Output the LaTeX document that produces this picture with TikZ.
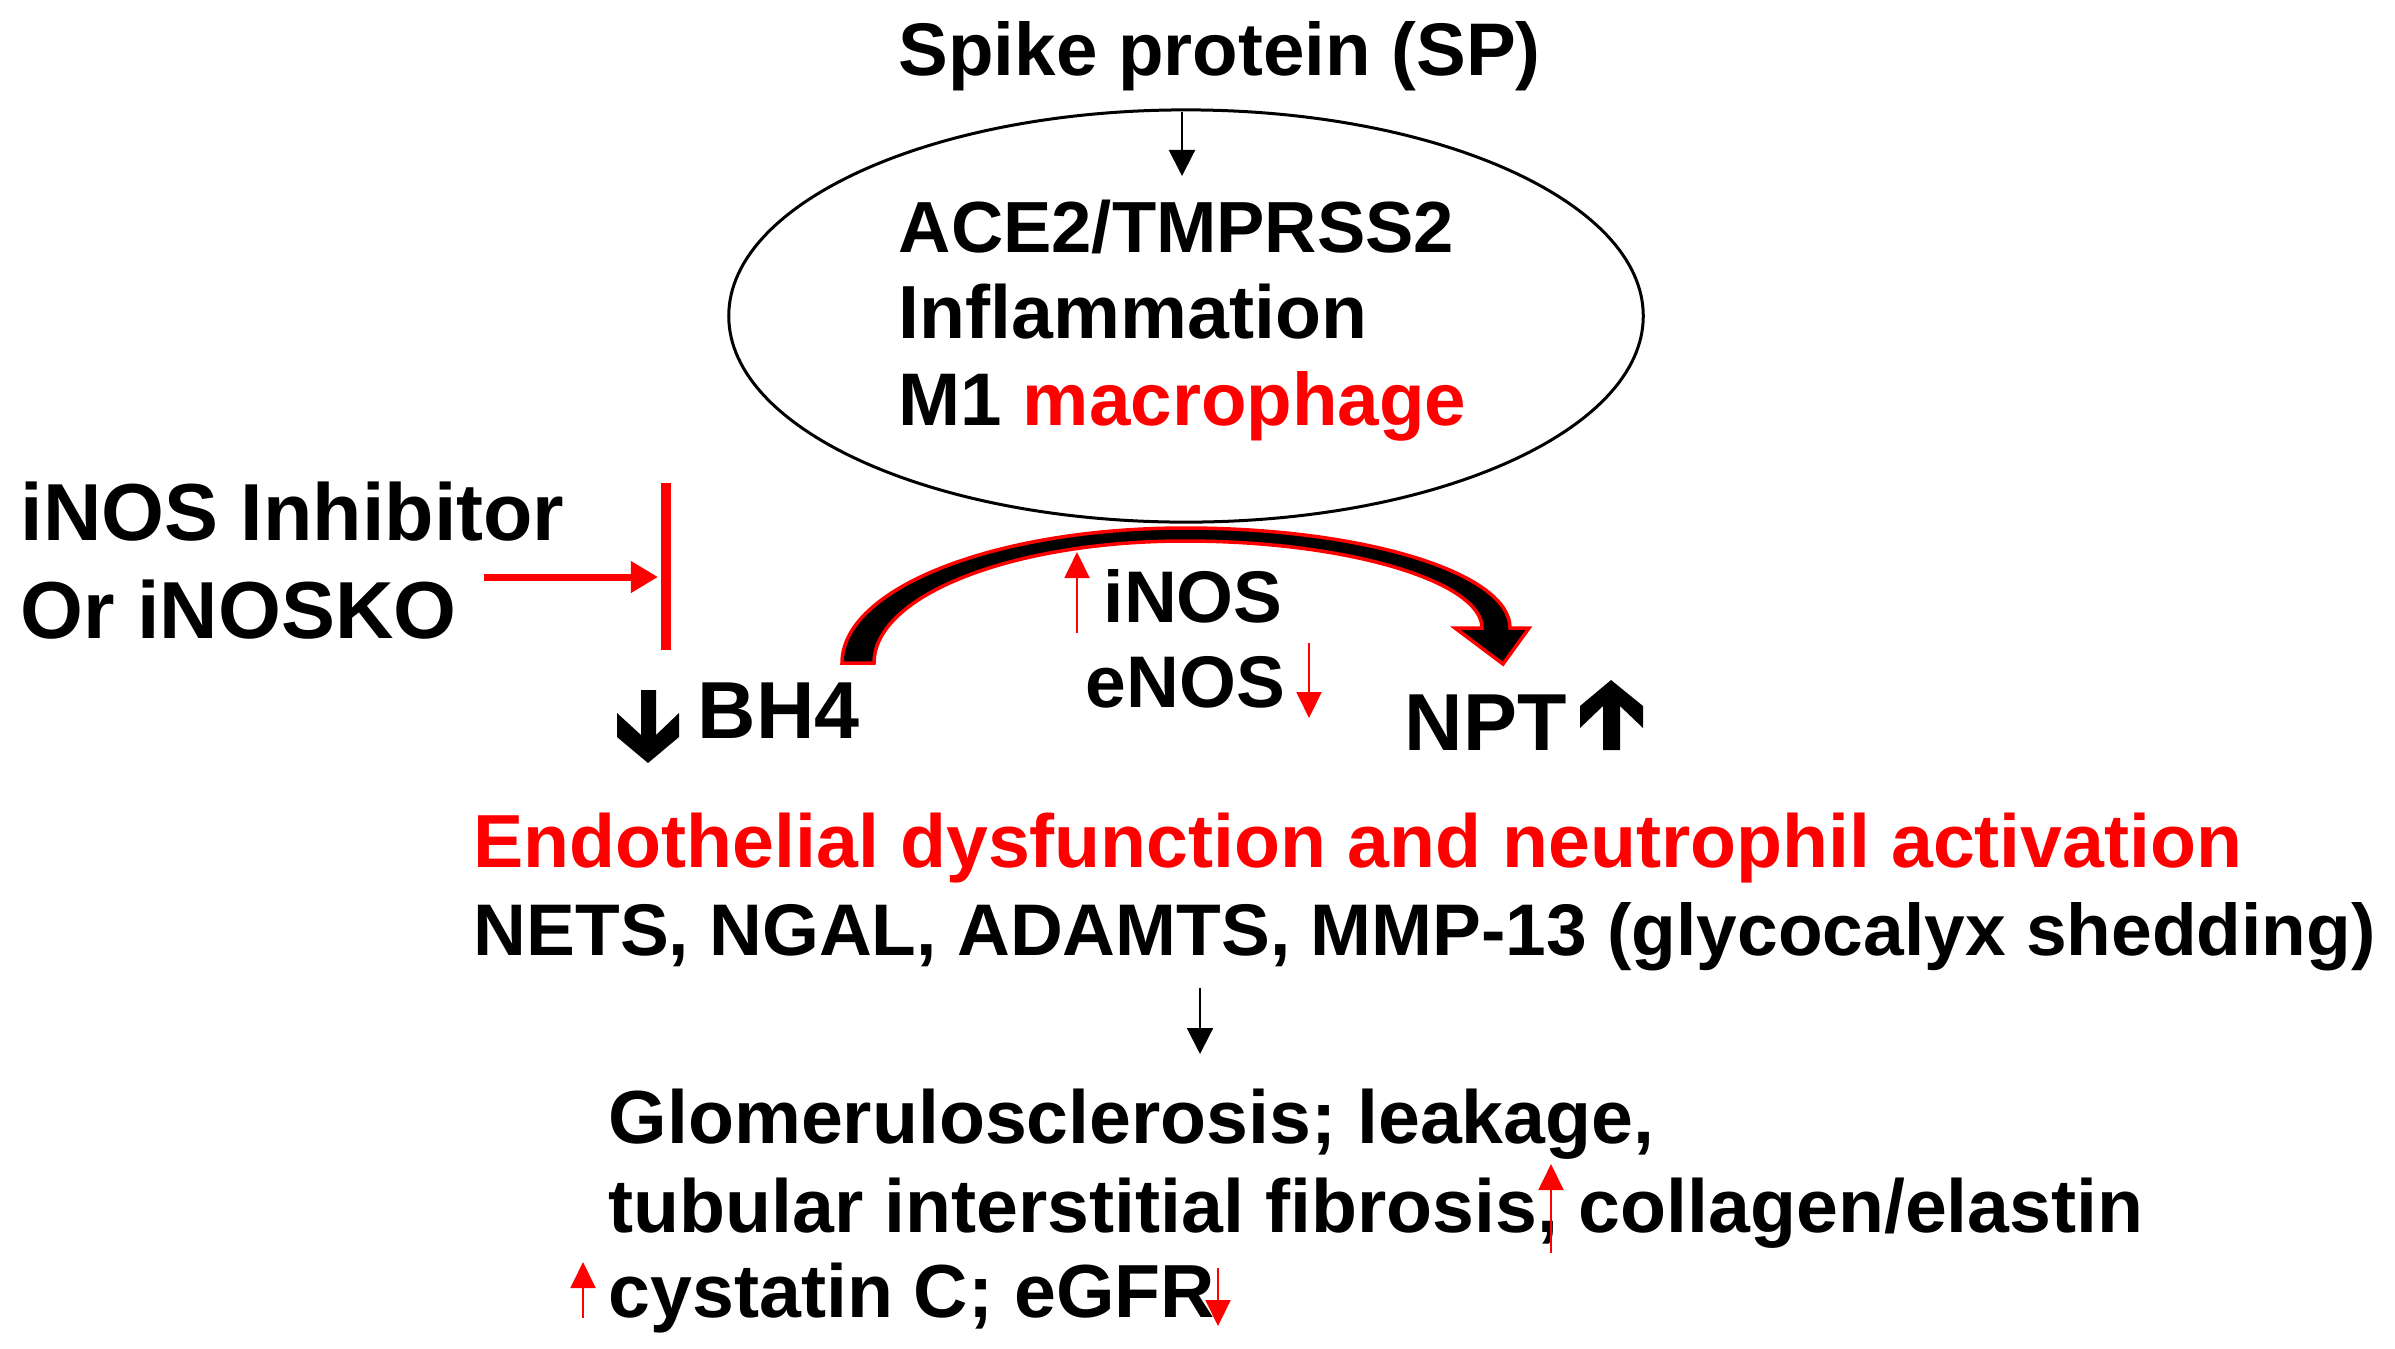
\documentclass[tikz,border=0pt]{standalone}
\usepackage{fontspec}
\setmainfont{Liberation Sans}
\usetikzlibrary{arrows.meta,shapes.geometric}
\definecolor{pred}{RGB}{255,0,0}
\begin{document}
\begin{tikzpicture}[x=0.01cm,y=-0.01cm,
  txt/.style={anchor=base west,inner sep=0pt,font=\bfseries},
  thinarrow/.style={line width=0.02cm,-{Triangle[length=0.26cm,width=0.26cm]}},
  redthin/.style={pred,line width=0.02cm,-{Triangle[length=0.26cm,width=0.25cm]}},
  bigfill/.style={fill=black,draw=none}]
\useasboundingbox (0,0) rectangle (2395,1348);
\fill[white] (0,0) rectangle (2395,1348);

% top
\node[txt,font=\bfseries\fontsize{21.2pt}{25pt}\selectfont] (sp) at (898,75) {Spike protein (SP)};
\node[draw,ellipse,line width=0.03cm,minimum width=9.14cm,minimum height=4.12cm,inner sep=0pt] (ell) at (1186,316) {};
\coordinate (spa) at (1182,112);
\coordinate (spb) at (1182,176);
\draw[thinarrow] (spa) -- (spb);
\node[txt,font=\bfseries\fontsize{20.6pt}{24pt}\selectfont] (l1) at (898,252) {ACE2/TMPRSS2};
\node[txt,font=\bfseries\fontsize{21.4pt}{25pt}\selectfont] (l2) at (898,338) {Inflammation};
\node[txt,font=\bfseries\fontsize{21.2pt}{25pt}\selectfont] (l3) at (898,425) {M1 \textcolor{pred}{macrophage}};

% inhibitor
\node[txt,font=\bfseries\fontsize{23pt}{27pt}\selectfont] (inh1) at (20,540) {iNOS Inhibitor};
\node[txt,font=\bfseries\fontsize{23pt}{27pt}\selectfont] (inh2) at (20,638) {Or iNOSKO};
\coordinate (ia) at (484,577);
\coordinate (ib) at (658,577);
\draw[pred,line width=0.07cm,-{Triangle[length=0.27cm,width=0.3cm]}] (ia) -- (ib);
\coordinate (bara) at (666,483);
\coordinate (barb) at (666,650);
\draw[pred,line width=0.10cm] (bara) -- (barb);

% BH4 and down arrow
\fill (641,690) -- (641,735) -- (617,713) -- (617,737) -- (648,763) -- (679,737) -- (679,713) -- (656,735) -- (656,690) -- cycle;
\node[txt,font=\bfseries\fontsize{23pt}{27pt}\selectfont] (bh4) at (697,738) {BH4};

% curved arrow BH4 -> NPT
\filldraw[fill=black,draw=pred,line width=0.035cm,line join=miter]
  (842,663) .. controls (842,588) and (996,528) .. (1185,528)
  .. controls (1364,528) and (1510,573) .. (1510,628)
  -- (1529,628) -- (1503,664) -- (1455,628) -- (1482,628)
  .. controls (1482,582) and (1349,541) .. (1185,541)
  .. controls (1013,541) and (874,595) .. (874,663) -- cycle;

% iNOS / eNOS
\coordinate (ua) at (1077,633);
\coordinate (ub) at (1077,552);
\draw[redthin] (ua) -- (ub);
\node[txt,font=\bfseries\fontsize{20.8pt}{24pt}\selectfont] (inos) at (1103,622) {iNOS};
\node[txt,font=\bfseries\fontsize{20.8pt}{24pt}\selectfont] (enos) at (1085,707) {eNOS};
\coordinate (da) at (1309,643);
\coordinate (db) at (1309,718);
\draw[redthin] (da) -- (db);

% NPT
\node[txt,font=\bfseries\fontsize{23pt}{27pt}\selectfont] (npt) at (1404,750) {NPT};
\fill (1603,750) -- (1603,706) -- (1580,728) -- (1580,706) -- (1611,680) -- (1643,706) -- (1643,728) -- (1620,706) -- (1620,750) -- cycle;

% middle
\node[txt,text=pred,font=\bfseries\fontsize{21.4pt}{25pt}\selectfont] (endo) at (473,867) {Endothelial dysfunction and neutrophil activation};
\node[txt,font=\bfseries\fontsize{20.8pt}{25pt}\selectfont] (nets) at (473,955) {NETS, NGAL, ADAMTS, MMP-13 (glycocalyx shedding)};
\coordinate (na) at (1200,988);
\coordinate (nb) at (1200,1054);
\draw[thinarrow] (na) -- (nb);

% bottom
\node[txt,font=\bfseries\fontsize{21.4pt}{25pt}\selectfont] (glom) at (608,1143) {Glomerulosclerosis; leakage,};
\node[txt,font=\bfseries\fontsize{21.4pt}{25pt}\selectfont] (tub) at (608,1232) {tubular interstitial fibrosis, collagen/elastin};
\coordinate (ta) at (1551,1253);
\coordinate (tb) at (1551,1164);
\draw[redthin] (ta) -- (tb);
\node[txt,font=\bfseries\fontsize{21.4pt}{25pt}\selectfont] (cys) at (608,1317) {cystatin C; eGFR};
\coordinate (ca) at (583,1318);
\coordinate (cb) at (583,1262);
\draw[redthin] (ca) -- (cb);
\coordinate (ga) at (1218,1268);
\coordinate (gb) at (1218,1326);
\draw[redthin] (ga) -- (gb);
\end{tikzpicture}
\end{document}
